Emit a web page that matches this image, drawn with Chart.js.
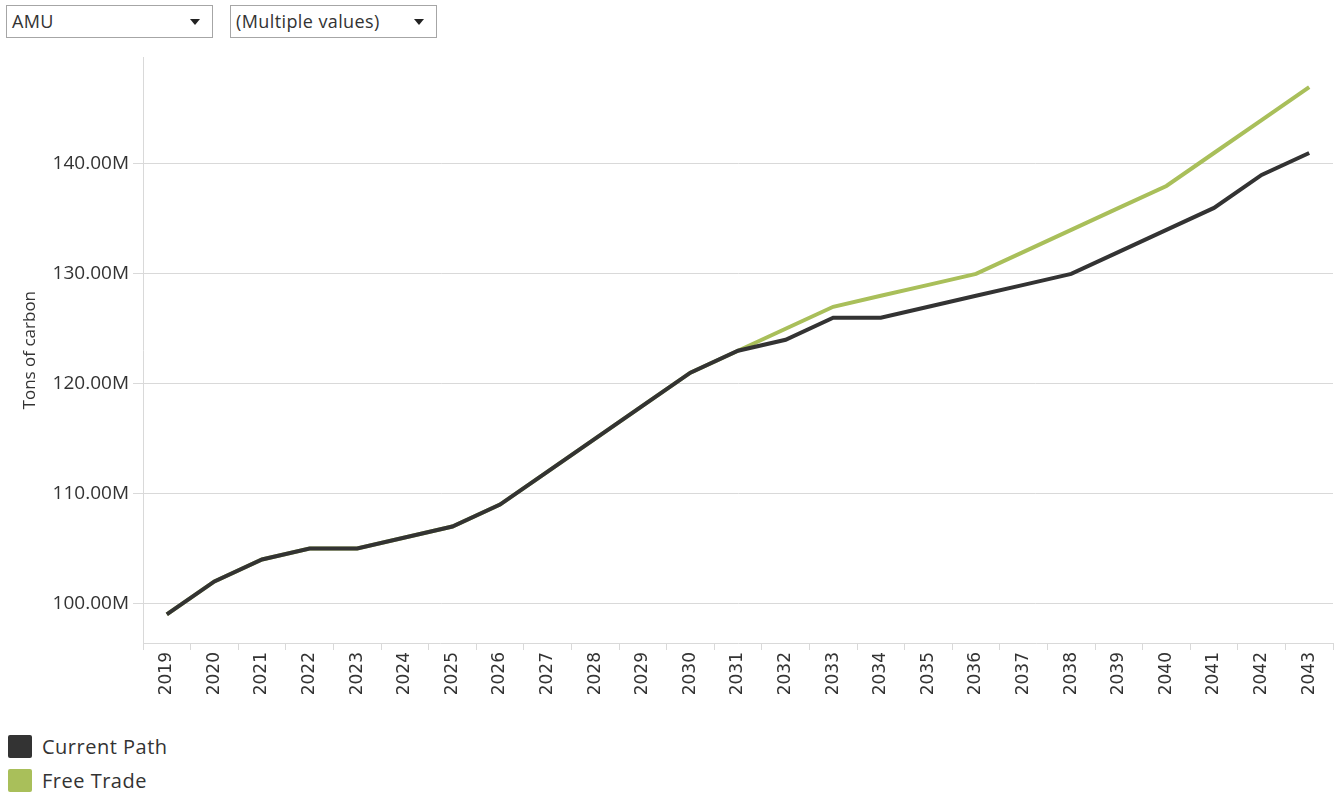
<!DOCTYPE html>
<html>
<head>
<meta charset="utf-8">
<script src="https://cdn.jsdelivr.net/npm/chart.js@4.4.1/dist/chart.umd.min.js"></script>
<style>
    body { margin: 0; background: #fff; font-family: "Open Sans", sans-serif; color: #333; }
    .filtro { position: absolute; top: 5px; height: 33px; border: 1px solid #a6a6a6; box-sizing: border-box; font-size: 18px; letter-spacing: 0.4px; line-height: 31px; padding-left: 5px; color: #333; }
    .filtro .flecha { position: absolute; right: 12px; top: 13px; width: 0; height: 0; border-left: 5px solid transparent; border-right: 5px solid transparent; border-top: 6px solid #222; }
    #contenedor { position: absolute; left: 0; top: 42px; width: 1341px; height: 678px; }
    .leyenda { position: absolute; left: 8px; font-size: 20px; letter-spacing: 0.5px; }
    .leyenda div { height: 34px; display: flex; align-items: center; }
    .leyenda span.caja { display: inline-block; width: 24px; height: 23px; margin-right: 10px; border-radius: 2px; }
</style>
</head>
<body>
<div class="filtro" style="left:6px; width:207px;">AMU<span class="flecha"></span></div>
<div class="filtro" style="left:230px; width:207px;">(Multiple values)<span class="flecha"></span></div>

<div id="contenedor"><canvas id="chartCarbono"></canvas></div>

<div class="leyenda" style="top:729px;">
    <div><span class="caja" style="background:#333333"></span>Current Path</div>
    <div><span class="caja" style="background:#a9bf5a"></span>Free Trade</div>
</div>

<script>
const anios = ['2019','2020','2021','2022','2023','2024','2025','2026','2027','2028','2029','2030',
    '2031','2032','2033','2034','2035','2036','2037','2038','2039','2040','2041','2042','2043'];
// millones de toneladas
const caminoActual = [99, 102, 104, 105, 105, 106, 107, 109, 112, 115, 118, 121,
    123, 124, 126, 126, 127, 128, 129, 130, 132, 134, 136, 139, 141];
const libreComercio = [99, 102, 104, 105, 105, 106, 107, 109, 112, 115, 118, 121,
    123, 125, 127, 128, 129, 130, 132, 134, 136, 138, 141, 144, 147];
const marcasY = [100, 110, 120, 130, 140];

document.addEventListener('DOMContentLoaded', () => {
    new Chart(document.getElementById('chartCarbono'), {
        type: 'line',
        data: {
            labels: anios,
            datasets: [
                { label: 'Current Path', data: caminoActual, borderColor: '#333333', borderWidth: 4, pointRadius: 0, tension: 0 },
                { label: 'Free Trade', data: libreComercio, borderColor: '#a9bf5a', borderWidth: 4, pointRadius: 0, tension: 0 }
            ]
        },
        options: {
            responsive: true,
            maintainAspectRatio: false,
            animation: false,
            layout: { padding: { top: 6, right: 8, left: 0, bottom: 0 } },
            plugins: { legend: { display: false }, tooltip: { enabled: false } },
            scales: {
                x: {
                    offset: true,
                    grid: { offset: true, drawOnChartArea: false, drawTicks: true, tickLength: 7, color: '#d9d9d9' },
                    border: { color: '#d9d9d9' },
                    ticks: { maxRotation: 90, minRotation: 90, padding: 2, color: '#333', font: { family: 'DejaVu Sans', size: 17 } },
                    afterFit: s => { s.height = 77; }
                },
                y: {
                    min: 96.4,
                    max: 149.7,
                    afterBuildTicks: s => { s.ticks = marcasY.map(v => ({ value: v })); },
                    grid: { color: '#d9d9d9', tickLength: 10 },
                    border: { color: '#d9d9d9' },
                    ticks: { padding: 4, color: '#333', font: { family: 'Open Sans', size: 19 }, callback: v => v.toFixed(2) + 'M' },
                    title: { display: true, text: 'Tons of carbon', color: '#333', font: { family: 'Open Sans', size: 17 }, padding: { top: 20 } },
                    afterFit: s => { s.width = 143; }
                }
            }
        }
    });
});
</script>
</body>
</html>
